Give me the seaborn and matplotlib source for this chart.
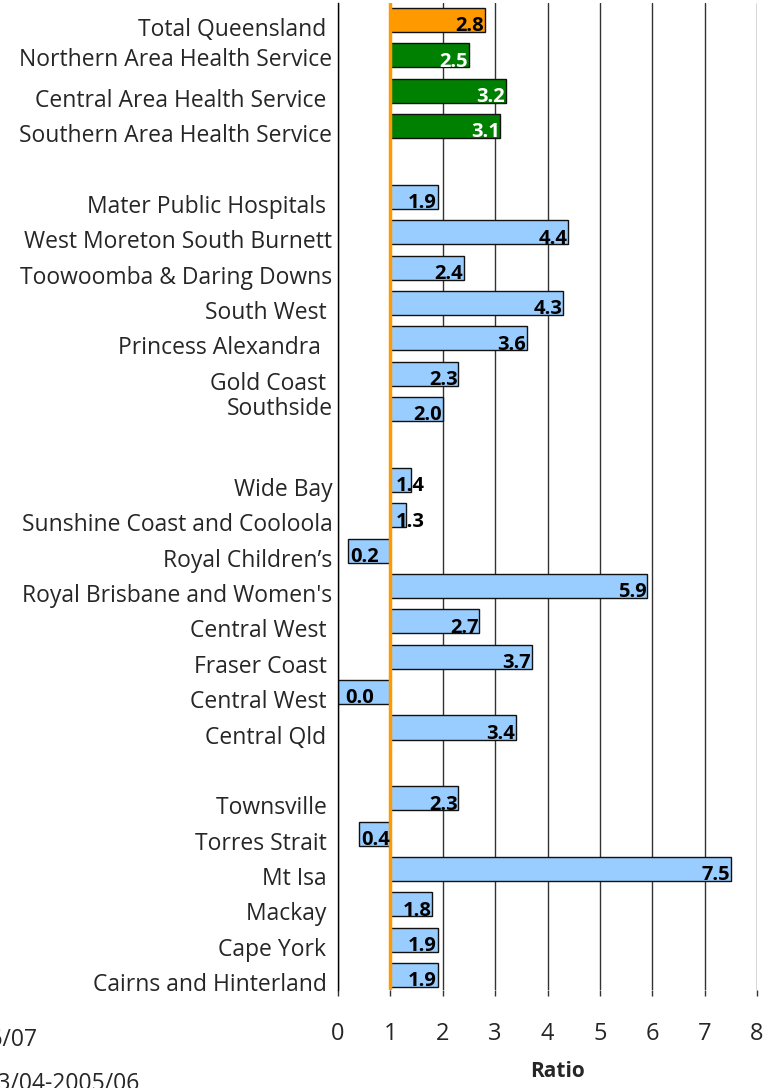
import matplotlib
matplotlib.use("Agg")
import matplotlib.pyplot as plt
import matplotlib.transforms as mtransforms
import seaborn as sns
import pandas as pd
import numpy as np

# ---- data (top to bottom; None = spacer row) ----
labels = [
    "Total Queensland ", "Northern Area Health Service", "Central Area Health Service ",
    "Southern Area Health Service", "",
    "Mater Public Hospitals ", "West Moreton South Burnett", "Toowoomba & Daring Downs",
    "South West ", "Princess Alexandra  ", "Gold Coast ", "Southside", "",
    "Wide Bay", "Sunshine Coast and Cooloola", "Royal Children’s", "Royal Brisbane and Women's",
    "Central West ", "Fraser Coast ", "Central West ", "Central Qld ", "",
    "Townsville ", "Torres Strait ", "Mt Isa ", "Mackay ", "Cape York ", "Cairns and Hinterland ",
]
values = [
    2.8, 2.5, 3.2, 3.1, None,
    1.9, 4.4, 2.4, 4.3, 3.6, 2.3, 2.0, None,
    1.4, 1.3, 0.2, 5.9, 2.7, 3.7, 0.0, 3.4, None,
    2.3, 0.4, 7.5, 1.8, 1.9, 1.9,
]
groups = [
    "state", "area", "area", "area", None,
    "district", "district", "district", "district", "district", "district", "district", None,
    "district", "district", "district", "district", "district", "district", "district", "district", None,
    "district", "district", "district", "district", "district", "district",
]
xticks = [0, 1, 2, 3, 4, 5, 6, 7, 8]
baseline = 1.0

palette = {"state": "#FF9900", "area": "#008000", "district": "#99CCFF"}
label_colors = {"state": "black", "area": "white", "district": "black"}

df = pd.DataFrame({"pos": np.arange(len(labels)), "label": labels,
                   "value": values, "group": groups})
bars = df.dropna(subset=["value"]).copy()

sns.set_style("white")
FONT = ["Open Sans", "DejaVu Sans"]
plt.rcParams["font.family"] = FONT

W, H, DPI = 764, 1088, 100
fig = plt.figure(figsize=(W / DPI, H / DPI), dpi=DPI)
ax = fig.add_axes([338 / W, 1 - 990 / H, (757 - 338) / W, (990 - 3) / H])

ax.set_axisbelow(True)
ax.xaxis.grid(True, color="#333333", linewidth=1.0)
ax.yaxis.grid(False)

sns.barplot(data=bars, x="value", y="pos", hue="group", palette=palette,
            orient="h", native_scale=True, dodge=False, width=0.68, saturation=1,
            edgecolor="#111111", linewidth=1.0, legend=False, ax=ax)

# bars start at the baseline ratio of 1
for p in ax.patches:
    v = p.get_x() + p.get_width()
    p.set_x(baseline)
    p.set_width(v - baseline)

ax.axvline(baseline, color="#FF9900", linewidth=2.5, zorder=5)

half = 0.34
for _, r in bars.iterrows():
    v, y, g = r["value"], r["pos"], r["group"]
    txt = f"{v:.1f}"
    if v >= baseline and v - baseline >= 0.6:
        x, ha, dx = v, "right", -0.5
    elif v >= baseline:
        x, ha, dx = baseline, "left", 4
    else:
        x, ha, dx = v, "left", 1.5 if v > 0 else 5
    ax.annotate(txt, xy=(x, y + half), xytext=(dx, 0.5), textcoords="offset points",
                ha=ha, va="baseline", fontsize=14.5, fontweight="bold",
                color=label_colors[g], zorder=6)

ax.set_xlim(0, 8)
ax.set_ylim(len(labels) - 1 + 0.42, -0.48)
ax.set_xticks(xticks)
ax.set_xticklabels([str(t) for t in xticks])
ax.set_yticks(df["pos"])
ax.set_yticklabels(df["label"])
ax.tick_params(axis="y", length=0, pad=4, labelsize=16.5)
ax.tick_params(axis="x", length=4, width=1, color="#333333", direction="out",
               pad=19, labelsize=17, bottom=True)
ax.set_xlabel("Ratio", fontsize=15, fontweight="bold", labelpad=11)
ax.xaxis.label.set_x((557 - 338) / (757 - 338))
ax.set_ylabel("")

# y labels sit slightly below their bars, as in the original layout
nudge = {"Northern Area Health Service": 2, "Southside": -3}
for lab in ax.get_yticklabels():
    dy = nudge.get(lab.get_text(), 7)
    lab.set_transform(lab.get_transform() +
                      mtransforms.ScaledTranslation(0, -dy / DPI, fig.dpi_scale_trans))

for s in ["top", "right", "bottom"]:
    ax.spines[s].set_visible(False)
ax.spines["left"].set_color("black")
ax.spines["left"].set_linewidth(1.0)

fig.text(38 / W, 1 - 1040 / H, "2006/07", ha="right", va="center", fontsize=16.5)
fig.text(140 / W, 1 - 1084 / H, "2003/04-2005/06", ha="right", va="center", fontsize=16.5)

fig.savefig("out.png", dpi=DPI)
